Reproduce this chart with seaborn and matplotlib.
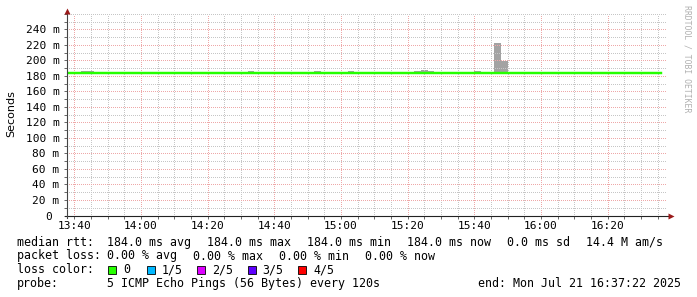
import matplotlib
matplotlib.use("Agg")
import matplotlib.pyplot as plt
from matplotlib.patches import Rectangle
import numpy as np
import pandas as pd
import seaborn as sns

# ---------------- data ----------------
first_step = "13:36"          # start of first 120 s step
step_min = 2                  # step length in minutes
median_rtt_ms = [
    184.0, 184.0, 184.0, 184.0, 184.0, 184.0, 184.0, 184.0, 184.0, 184.0,
    184.0, 184.0, 184.0, 184.0, 184.0, 184.0, 184.0, 184.0, 184.0, 184.0,
    184.0, 184.0, 184.0, 184.0, 184.0, 184.0, 184.0, 184.0, 184.0, 184.0,
    184.0, 184.0, 184.0, 184.0, 184.0, 184.0, 184.0, 184.0, 184.0, 184.0,
    184.0, 184.0, 184.0, 184.0, 184.0, 184.0, 184.0, 184.0, 184.0, 184.0,
    184.0, 184.0, 184.0, 184.0, 184.0, 184.0, 184.0, 184.0, 184.0, 184.0,
    184.0, 184.0, 184.0, 184.0, 184.0, 184.0, 184.0, 184.0, 184.0, 184.0,
    184.0, 184.0, 184.0, 184.0, 184.0, 184.0, 184.0, 184.0, 184.0, 184.0,
    184.0, 184.0, 184.0, 184.0, 184.0, 184.0, 184.0, 184.0, 184.0, 184.0,
]
smoke_steps = ["13:42", "13:44", "14:32", "14:52", "15:02", "15:22",
               "15:24", "15:26", "15:40", "15:46", "15:48"]
smoke_min_ms = [184.0, 184.0, 184.0, 184.0, 184.0, 184.0,
                184.0, 184.0, 184.0, 184.0, 184.0]
smoke_max_ms = [186.0, 186.0, 186.0, 186.0, 186.0, 186.0,
                187.5, 186.0, 186.0, 223.0, 199.0]

x_start, x_end = "13:37:45", "16:37:45"
x_major_labels = ["13:40", "14:00", "14:20", "14:40", "15:00",
                  "15:20", "15:40", "16:00", "16:20"]
x_minor_step = 5
y_max = 260
y_major = [0, 20, 40, 60, 80, 100, 120, 140, 160, 180, 200, 220, 240]
y_major_labels = ["0 ", "20 m", "40 m", "60 m", "80 m", "100 m", "120 m",
                  "140 m", "160 m", "180 m", "200 m", "220 m", "240 m"]
y_minor_step = 10

legend_rows = [
    ["median rtt:", "184.0 ms avg", "184.0 ms max", "184.0 ms min",
     "184.0 ms now", "0.0 ms sd", "14.4 M am/s"],
    ["packet loss:", "0.00 % avg", "0.00 % max", "0.00 % min", "0.00 % now"],
]
loss_labels = ["0", "1/5", "2/5", "3/5", "4/5"]
loss_colors = ["#26ff00", "#00b8ff", "#dd00ff", "#5e00ff", "#ff0000"]
probe_text = "5 ICMP Echo Pings (56 Bytes) every 120s"
end_text = "end: Mon Jul 21 16:37:22 2025"
watermark = "RRDTOOL / TOBI OETIKER"


def to_min(s):
    parts = [float(p) for p in s.split(":")]
    m = parts[0] * 60 + parts[1]
    if len(parts) > 2:
        m += parts[2] / 60
    return m


# ---------------- figure ----------------
W, H = 697, 297
L, R, T, B = 66.7, 666.7, 13.8, 215.5
fig = plt.figure(figsize=(W / 100, H / 100), dpi=100)
fig.patch.set_facecolor("white")
ax = fig.add_axes([L / W, 1 - B / H, (R - L) / W, (B - T) / H])
ax.set_facecolor("white")

mono = "DejaVu Sans Mono"

# median line (steps)
t0 = to_min(first_step)
times = [t0 + i * step_min for i in range(len(median_rtt_ms))]
df = pd.DataFrame({"t": times + [times[-1] + step_min],
                   "rtt": median_rtt_ms + [median_rtt_ms[-1]]})
sns.lineplot(data=df, x="t", y="rtt", drawstyle="steps-post",
             color=loss_colors[0], lw=1.75, ax=ax, zorder=3)

# smoke
sx = [to_min(s) for s in smoke_steps]
ax.bar(sx, np.array(smoke_max_ms) - np.array(smoke_min_ms),
       bottom=smoke_min_ms, width=step_min, align="edge",
       color="#a3a3a3", linewidth=0, zorder=1)

ax.set_xlim(to_min(x_start), to_min(x_end))
ax.set_ylim(0, y_max)

xmaj = [to_min(s) for s in x_major_labels]
xmin = [m for m in np.arange(xmaj[0], to_min(x_end), x_minor_step)
        if m not in xmaj]
ax.set_xticks(xmaj)
ax.set_xticklabels(x_major_labels)
ax.set_xticks(xmin, minor=True)
ymin = [v for v in range(y_minor_step, y_max + 1, y_minor_step) if v not in y_major]
ax.set_yticks(y_major)
ax.set_yticklabels(y_major_labels)
ax.set_yticks(ymin, minor=True)

ax.grid(True, which="major", color="#eea8a8", lw=0.72, ls=(0, (1, 1.39)),
        antialiased=False)
ax.grid(True, which="minor", color="#c6c6c6", lw=0.72, ls=(0, (1, 1.39)),
        antialiased=False)
ax.xaxis.set_zorder(1.5)
ax.yaxis.set_zorder(1.5)

ax.tick_params(which="both", length=2.2, width=0.7, color="#666666",
               labelsize=8, labelcolor="black")
ax.tick_params(axis="y", which="both", pad=3.0)
ax.tick_params(axis="x", which="both", pad=1.6)
for lab in ax.get_xticklabels() + ax.get_yticklabels():
    lab.set_fontfamily(mono)
ax.set_xlabel("")
ax.set_ylabel("")
for sp in ax.spines.values():
    sp.set_visible(False)

# axes with arrows
pw, ph = R - L, B - T
ax.plot([-2 / pw, (670 - L) / pw], [0, 0], color="#222222", lw=0.8,
        transform=ax.transAxes, clip_on=False, zorder=4)
ax.plot([0, 0], [-2 / ph, (B - 11) / ph], color="#444444", lw=0.8,
        transform=ax.transAxes, clip_on=False, zorder=4)
ax.plot([(671 - L) / pw], [0], marker=">", ms=4, color="#9a1a1a",
        mec="none", transform=ax.transAxes, clip_on=False, zorder=5)
ax.plot([0], [(B - 11.5) / ph], marker="^", ms=4, color="#9a1a1a",
        mec="none", transform=ax.transAxes, clip_on=False, zorder=5)

# y label
fig.text(11 / W, 1 - 114 / H, "Seconds", rotation=90, ha="center",
         va="center", fontsize=8, family="DejaVu Sans")
# watermark
fig.text(687.5 / W, 1 - 59 / H, watermark, rotation=270, ha="center",
         va="center", fontsize=5.9, family=mono, color="#b0b0b0")

# legend text
fs = 8.4


def ftext(x, yb, s, **kw):
    fig.text(x / W, 1 - yb / H, s, ha="left", va="baseline",
             fontsize=fs, family=mono, color="black", **kw)


row_base = [245.7, 259.5, 273.3, 287.2]
for r, items in enumerate(legend_rows):
    ftext(16.7, row_base[r], items[0])
    x = 107.3
    for s in items[1:]:
        ftext(x, row_base[r], s)
        x += len(s) * 7.0 + 16.0

ftext(16.7, row_base[2], "loss color:")
box_x = [108.3, 146.7, 197.0, 247.5, 298.3]
for bx, lab, col in zip(box_x, loss_labels, loss_colors):
    fig.patches.append(Rectangle((bx / W, 1 - 273.5 / H), 8 / W, 8 / H,
                                 transform=fig.transFigure, facecolor=col,
                                 edgecolor="black", lw=0.6))
    ftext(bx + 15, row_base[2], lab)

ftext(16.7, row_base[3], "probe:")
ftext(107.3, row_base[3], probe_text)
ftext(478.3, row_base[3], end_text)

fig.savefig("out.png", dpi=100, facecolor="white")
